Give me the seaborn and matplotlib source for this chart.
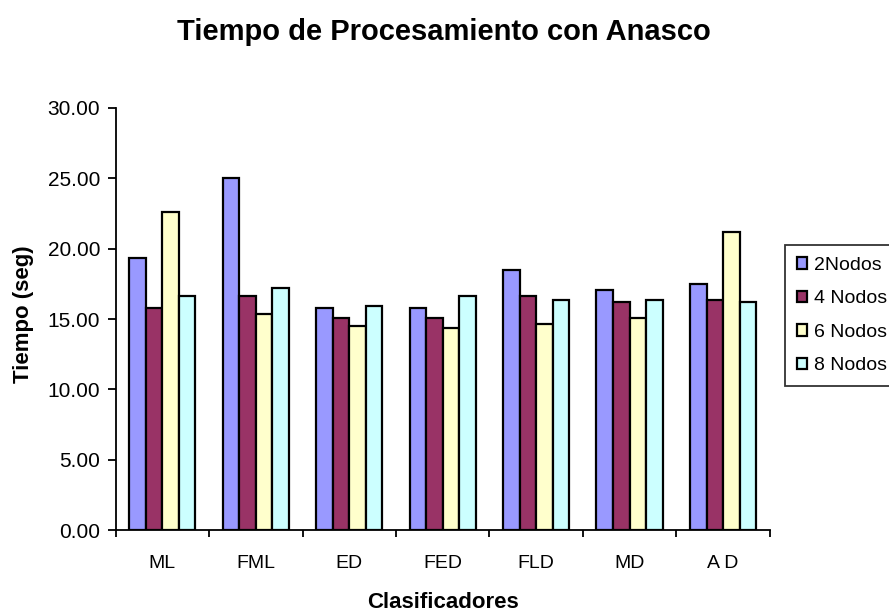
import pandas as pd
import numpy as np
import matplotlib
matplotlib.use("Agg")
import matplotlib.pyplot as plt
from matplotlib.ticker import FormatStrFormatter, FixedLocator
import seaborn as sns

# ======== DATA ========
clasificadores = ["ML", "FML", "ED", "FED", "FLD", "MD", "A D"]
series = ["2Nodos", "4 Nodos", "6 Nodos", "8 Nodos"]
nodos_2 = [19.35, 25.00, 15.80, 15.80, 18.50, 17.08, 17.50]
nodos_4 = [15.80, 16.65, 15.09, 15.09, 16.65, 16.23, 16.37]
nodos_6 = [22.60, 15.37, 14.52, 14.38, 14.66, 15.09, 21.20]
nodos_8 = [16.65, 17.22, 15.94, 16.65, 16.37, 16.37, 16.23]
colores = ["#9999FF", "#993366", "#FFFFCC", "#CCFFFF"]
# ======================

sns.set_theme(style="white")
plt.rcParams["font.family"] = ["Liberation Sans", "DejaVu Sans"]
for key in ["text.color", "axes.labelcolor", "xtick.color", "ytick.color"]:
    plt.rcParams[key] = "black"

df = pd.DataFrame({
    "Clasificadores": clasificadores * 4,
    "Serie": [s for s in series for _ in clasificadores],
    "Tiempo": nodos_2 + nodos_4 + nodos_6 + nodos_8,
})

fig = plt.figure(figsize=(8.89, 6.13), dpi=100)
ax = fig.add_axes([0.130, 0.135, 0.736, 0.689])

sns.barplot(data=df, x="Clasificadores", y="Tiempo", hue="Serie",
            palette=colores, width=0.71, edgecolor="black", linewidth=1.6,
            saturation=1, errorbar=None, ax=ax)

ax.set_xlim(-0.5, len(clasificadores) - 0.5)
ax.set_ylim(0, 30)
ax.set_yticks(np.arange(0, 30.1, 5))
ax.yaxis.set_major_formatter(FormatStrFormatter("%.2f"))

# ticks at category boundaries, labels at centers
ax.xaxis.set_minor_locator(FixedLocator(np.arange(-0.5, len(clasificadores), 1.0)))
ax.tick_params(axis="x", which="major", length=0, pad=18, labelsize=14)
ax.tick_params(axis="x", which="minor", length=5, width=1.3, direction="out", color="black")
ax.tick_params(axis="y", which="major", length=6, width=1.3, direction="out",
               color="black", labelsize=15, pad=5)
ax.xaxis.set_ticks_position("bottom")
ax.yaxis.set_ticks_position("left")

for side in ["top", "right"]:
    ax.spines[side].set_visible(False)
for side in ["left", "bottom"]:
    ax.spines[side].set_color("black")
    ax.spines[side].set_linewidth(1.3)

ax.set_xlabel("Clasificadores", fontsize=16, fontweight="bold")
ax.xaxis.set_label_coords(0.5, -0.147)
ax.set_ylabel("Tiempo (seg)", fontsize=16, fontweight="bold")
ax.yaxis.set_label_coords(-0.124, 0.512)
fig.text(0.499, 0.948, "Tiempo de Procesamiento con Anasco", fontsize=21,
         fontweight="bold", ha="center", va="center")

leg = ax.legend(loc="upper left", bbox_to_anchor=(1.023, 0.675), borderaxespad=0,
                frameon=True, fancybox=False, edgecolor="black", fontsize=14,
                handlelength=0.52, handleheight=0.52, handletextpad=0.36,
                labelspacing=0.85, borderpad=0.6)
leg.get_frame().set_linewidth(1.3)

fig.savefig("out.png", dpi=100)
